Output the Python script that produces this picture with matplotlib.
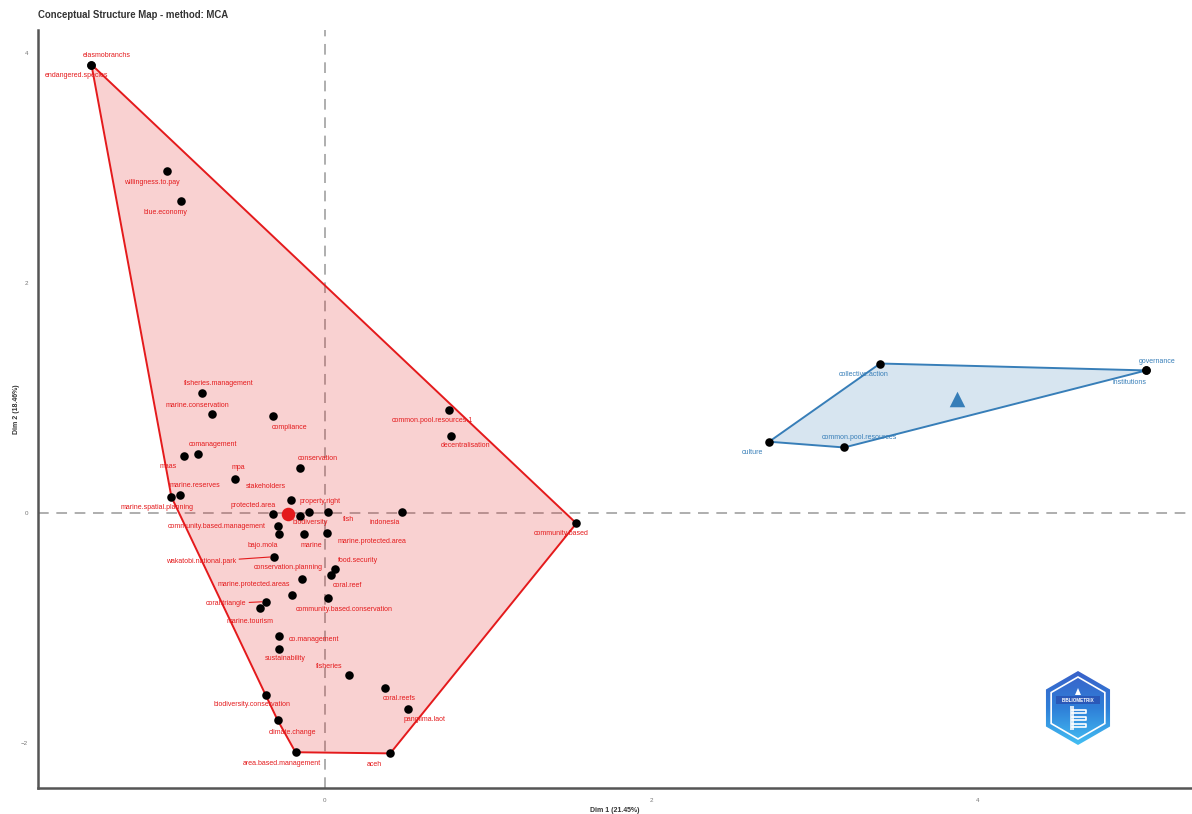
import numpy as np
import matplotlib
matplotlib.use("Agg")
import matplotlib.pyplot as plt
from matplotlib.patches import Polygon
from matplotlib.colors import LinearSegmentedColormap

plt.rcParams["font.family"] = ["Liberation Sans", "DejaVu Sans"]

RED = "#E41A1C"
BLUE = "#377EB8"

# cluster 1 terms (Dim 1, Dim 2)
terms_1 = ["elasmobranchs", "endangered.species", "willingness.to.pay", "blue.economy",
           "fisheries.management", "marine.conservation", "compliance", "comanagement",
           "maas", "mpa", "stakeholders", "conservation", "marine.reserves",
           "marine.spatial.planning", "protected.area", "property.right", "biodiversity",
           "fish", "community.based.management", "bajo.mola", "marine",
           "marine.protected.area", "indonesia", "wakatobi.national.park",
           "conservation.planning", "food.security", "coral.reef", "marine.protected.areas",
           "community.based.conservation", "coral.triangle", "marine.tourism",
           "co.management", "sustainability", "fisheries", "coral.reefs", "panglima.laot",
           "biodiversity.conservation", "climate.change", "area.based.management", "aceh",
           "common.pool.resources.1", "decentralisation", "community.based"]
dim1_1 = [-1.43, -1.43, -0.97, -0.88, -0.75, -0.69, -0.32, -0.78, -0.86, -0.55, -0.21,
          -0.15, -0.89, -0.94, -0.32, -0.10, -0.15, 0.02, -0.29, -0.28, -0.13, 0.01, 0.47,
          -0.31, -0.14, 0.06, 0.04, -0.20, 0.02, -0.36, -0.40, -0.28, -0.28, 0.15, 0.37,
          0.51, -0.36, -0.29, -0.18, 0.40, 0.76, 0.77, 1.54]
dim2_1 = [3.90, 3.90, 2.97, 2.71, 1.04, 0.86, 0.84, 0.51, 0.50, 0.30, 0.11, 0.39, 0.16,
          0.14, -0.01, 0.01, -0.03, 0.01, -0.11, -0.18, -0.18, -0.17, 0.01, -0.38, -0.57,
          -0.49, -0.54, -0.71, -0.74, -0.77, -0.83, -1.07, -1.18, -1.41, -1.52, -1.70,
          -1.58, -1.80, -2.08, -2.09, 0.90, 0.67, -0.09]

# cluster 2 terms
terms_2 = ["collective.action", "governance", "institutions", "culture", "common.pool.resources"]
dim1_2 = [3.40, 5.03, 5.03, 2.72, 3.18]
dim2_2 = [1.30, 1.24, 1.24, 0.62, 0.57]

# label nudges in pixels (dx right, dy down)
nudge = {
    "elasmobranchs": (15, -9), "endangered.species": (-15, 11), "willingness.to.pay": (-15, 11),
    "blue.economy": (-16, 11), "fisheries.management": (16, -10), "marine.conservation": (-15, -9),
    "compliance": (17, 11), "comanagement": (15, -10), "maas": (-16, 11), "mpa": (3, -11),
    "stakeholders": (-25, -14), "conservation": (17, -10), "marine.reserves": (15, -9),
    "marine.spatial.planning": (-14, 11), "protected.area": (-20, -9), "property.right": (11, -10),
    "biodiversity": (10, 6), "fish": (20, 8), "community.based.management": (-61, 1),
    "bajo.mola": (-16, 12), "marine": (8, 12), "marine.protected.area": (45, 9),
    "indonesia": (-17, 11), "wakatobi.national.park": (-73, 5), "conservation.planning": (-14, -11),
    "food.security": (23, -9), "coral.reef": (16, 10), "marine.protected.areas": (-38, -10),
    "community.based.conservation": (16, 11), "coral.triangle": (-40, 2), "marine.tourism": (-10, 13),
    "co.management": (35, 3), "sustainability": (6, 10), "fisheries": (-20, -9),
    "coral.reefs": (14, 11), "panglima.laot": (16, 11), "biodiversity.conservation": (-14, 10),
    "climate.change": (15, 12), "area.based.management": (-14, 11), "aceh": (-16, 11),
    "common.pool.resources.1": (-17, 11), "decentralisation": (15, 10), "community.based": (-15, 10),
    "collective.action": (-16, 11), "governance": (11, -9), "institutions": (-17, 12),
    "culture": (-17, 11), "common.pool.resources": (15, -10),
}
leaders = {"wakatobi.national.park", "coral.triangle"}


def hull(pts):
    # monotone chain convex hull
    pts = sorted(set(map(tuple, pts)))
    def cross(o, a, b):
        return (a[0]-o[0])*(b[1]-o[1]) - (a[1]-o[1])*(b[0]-o[0])
    lo, up = [], []
    for p in pts:
        while len(lo) >= 2 and cross(lo[-2], lo[-1], p) <= 0:
            lo.pop()
        lo.append(p)
    for p in reversed(pts):
        while len(up) >= 2 and cross(up[-2], up[-1], p) <= 0:
            up.pop()
        up.append(p)
    return np.array(lo[:-1] + up[:-1])


fig = plt.figure(figsize=(11.92, 8.14), dpi=100)
ax = fig.add_axes([38/1192, 26/814, 1 - 38/1192, (788-30)/814])
ax.set_xlim(-1.757, 5.31)
ax.set_ylim(-2.391, 4.2)

ax.axhline(0, color="#999999", lw=1.1, ls=(0, (7, 5)), zorder=1)
ax.axvline(0, color="#999999", lw=1.1, ls=(0, (7, 5)), zorder=1)

clusters = [(terms_1, dim1_1, dim2_1, RED, "o", 95),
            (terms_2, dim1_2, dim2_2, BLUE, "^", 125)]
for terms, xs, ys, col, cmark, csize in clusters:
    pts = np.column_stack([xs, ys])
    h = hull(pts)
    ax.add_patch(Polygon(h, closed=True, fc=col, alpha=0.2, ec="none", zorder=2))
    ax.add_patch(Polygon(h, closed=True, fc="none", ec=col, lw=1.4, zorder=3))
    ax.scatter(xs, ys, s=38, c="black", zorder=5, lw=0)
    ax.scatter([np.mean(xs)], [np.mean(ys)], s=csize, c=col, marker=cmark, zorder=6, lw=0)
    for t, x, y in zip(terms, xs, ys):
        dx, dy = nudge[t]
        arrow = dict(arrowstyle="-", color=col, lw=0.8, shrinkA=0, shrinkB=3) if t in leaders else None
        ax.annotate(t, (x, y), xytext=(dx, -dy), textcoords="offset pixels",
                    ha="center", va="center", fontsize=5, color=col, zorder=7,
                    arrowprops=arrow)

ax.set_xticks([0, 2, 4])
ax.set_yticks([-2, 0, 2, 4])
ax.tick_params(length=0, pad=7, labelsize=4.5, labelcolor="#777777")
for s in ["top", "right"]:
    ax.spines[s].set_visible(False)
for s in ["left", "bottom"]:
    ax.spines[s].set_color("#555555")
    ax.spines[s].set_linewidth(1.8)
ax.set_xlabel("Dim 1 (21.45%)", fontsize=5, fontweight="bold", color="#333333", labelpad=3)
ax.set_ylabel("Dim 2 (18.46%)", fontsize=5, fontweight="bold", color="#333333", labelpad=1)

fig.text(38/1192, 1 - 15/814, "Conceptual Structure Map - method: MCA",
         fontsize=6.9, fontweight="bold", color="#333333", va="center")

# bibliometrix badge
lg = fig.add_axes([1040/1192, 66/814, 76/1192, 80/814])
lg.set_xlim(-38, 38)
lg.set_ylim(-40, 40)
lg.axis("off")
ang = np.deg2rad(np.arange(90, 450, 60))
outer = np.column_stack([37*np.cos(ang), 37*np.sin(ang)])
inner = np.column_stack([31*np.cos(ang), 31*np.sin(ang)])
grad = np.linspace(0, 1, 256)[:, None]
cm = LinearSegmentedColormap.from_list("bx", ["#45C4F5", "#2F7FD8", "#3A5FC8"])
im = lg.imshow(grad, cmap=cm, extent=(-38, 38, -40, 40), origin="lower", aspect="auto")
im.set_clip_path(Polygon(outer, closed=True, transform=lg.transData))
lg.add_patch(Polygon(inner, closed=True, fc="none", ec="white", lw=1.2))
lg.add_patch(Polygon([(-22, 4), (22, 4), (22, 12), (-22, 12)], fc="#2A58B8", ec="none"))
lg.text(0, 8, "BIBLIOMETRIX", fontsize=3.3, fontweight="bold", color="white",
        ha="center", va="center")
lg.add_patch(Polygon([(-3, 13), (3, 13), (0, 20)], fc="white", ec="none"))
for yy in [-2, -9, -16]:
    lg.plot([-6, 8, 8, -6], [yy, yy, yy - 3, yy - 3], color="white", lw=1.2)
lg.add_patch(Polygon([(-8, 2), (-4, 2), (-4, -22), (-8, -22)], fc="white", ec="none", alpha=0.8))

fig.savefig("out.png", dpi=100)
